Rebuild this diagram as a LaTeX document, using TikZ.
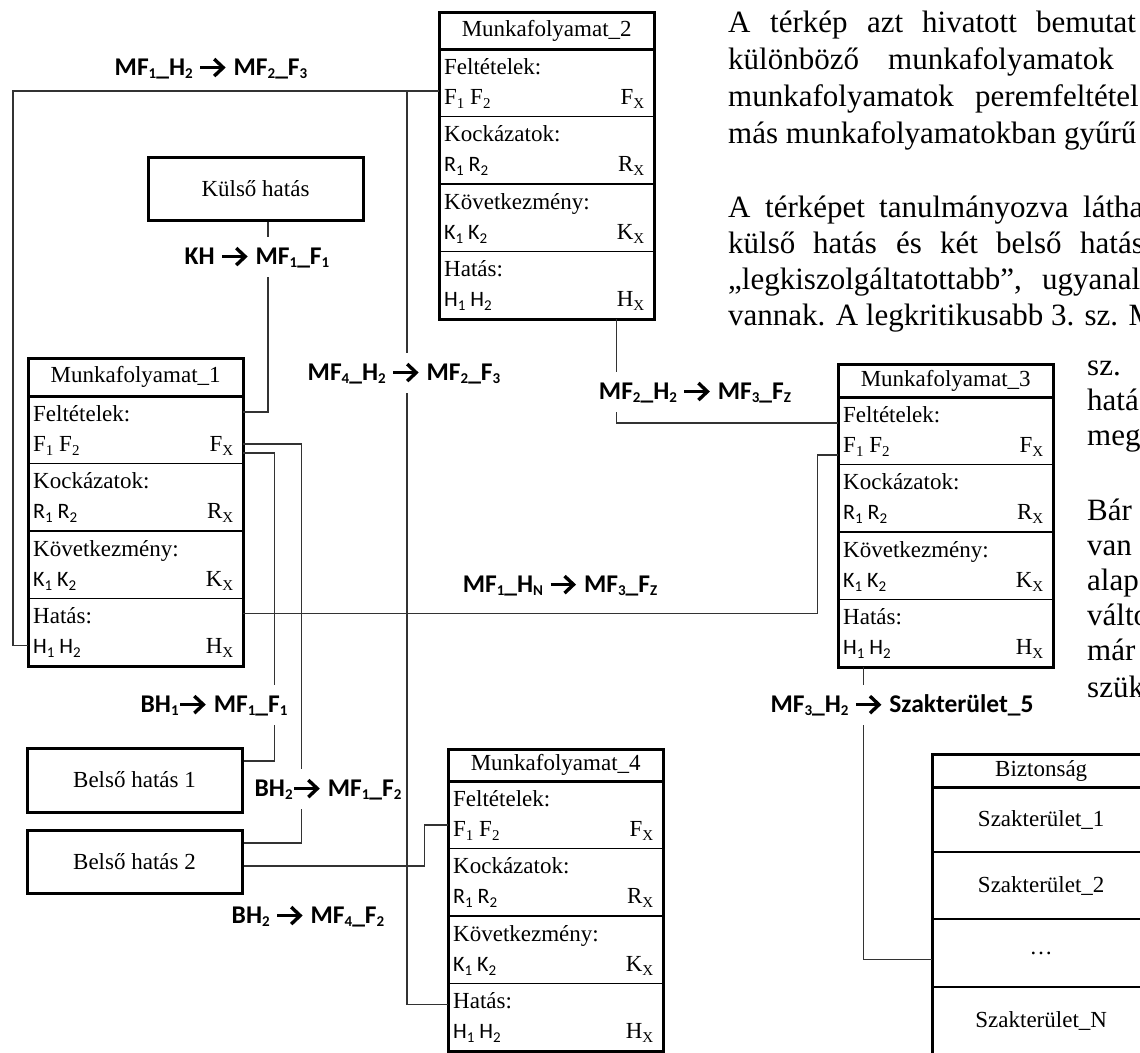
\documentclass[tikz,border=0pt]{standalone}
\usepackage{fontspec}
\setmainfont{Liberation Serif}
\newfontfamily\labfont{Carlito}
\usetikzlibrary{calc}

\newcommand\dn[1]{\raisebox{-4pt}{\fontsize{15}{15}\selectfont #1}}
\newcommand\ldn[1]{\raisebox{-3pt}{\fontsize{15}{15}\selectfont #1}}
\newcommand\arr{\tikz[baseline=-7.5pt, x=1pt, y=1pt]{\draw[line width=3.4pt, line cap=butt] (0,0) -- (23,0); \draw[line width=3.4pt, line join=miter, miter limit=4] (14,8.5) -- (23,0) -- (14,-8.5);}\hspace{3pt}}
\newcommand\svals[1]{{\labfont\fontsize{22}{22}\selectfont #1\dn{1}\ #1\dn{2}}}

\newcommand\mfsec[6]{%
  \node[sec, anchor=north west] (#1) at (#2,#3) {};
  \node[txt, anchor=base west] (#1-l) at ([xshift=5pt,yshift=-25pt]#1.north west) {#4};
  \node[txt, anchor=base west] (#1-v) at ([xshift=5pt,yshift=-55pt]#1.north west) {#5};
  \node[txt, anchor=base east] (#1-x) at ([xshift=-10pt,yshift=-55pt]#1.north east) {#6};
  \draw[div] (#1.north west) -- (#1.north east);
}
\newcommand\mfbox[5]{%
  \node[sec, anchor=north west, minimum height=#4pt] (#1-t) at (#2,#3) {#5};
  \mfsec{#1-f}{#2}{#3+#4}{Feltételek:}{F\dn{1}\ F\dn{2}}{F\dn{X}}
  \mfsec{#1-r}{#2}{#3+#4+67.5}{Kockázatok:}{\svals{R}}{R\dn{X}}
  \mfsec{#1-k}{#2}{#3+#4+135}{Következmény:}{\svals{K}}{K\dn{X}}
  \mfsec{#1-h}{#2}{#3+#4+202.5}{Hatás:}{\svals{H}}{H\dn{X}}
  \draw[outer] (#1-t.north west) rectangle (#1-h.south east);
  \draw[outer] (#1-t.south west) -- (#1-t.south east);
}

\begin{document}
\begin{tikzpicture}[x=1pt, y=-1pt,
  sec/.style={minimum width=215pt, minimum height=67.5pt, inner sep=0pt, font=\fontsize{23}{27}\selectfont},
  txt/.style={inner sep=0pt, font=\fontsize{23}{27}\selectfont},
  div/.style={line width=1.4pt},
  outer/.style={line width=3pt},
  sbox/.style={draw, line width=3pt, minimum width=215pt, minimum height=63pt, inner sep=0pt, font=\fontsize{23}{27}\selectfont},
  conn/.style={line width=1.4pt, draw=black!80},
  lbl/.style={fill=white, inner xsep=2pt, inner ysep=0pt, minimum height=40pt, font=\labfont\bfseries\fontsize{25.5}{30}\selectfont},
  para/.style={anchor=base west, inner sep=0pt, font=\fontsize{31}{36}\selectfont}]
\path[use as bounding box] (0,0) rectangle (1140,1052);
\clip (0,0) rectangle (1140,1052);

% boxes
\mfbox{mf1}{28}{358}{38}{Munkafolyamat\_1}
\mfbox{mf2}{439}{12}{37}{Munkafolyamat\_2}
\mfbox{mf3}{838}{364}{33}{Munkafolyamat\_3}
\mfbox{mf4}{448}{749}{32}{Munkafolyamat\_4}

\node[sbox] (kh) at (255.5,188.5) {Külső hatás};
\node[sbox, minimum height=64pt] (bh1) at (134.5,780) {Belső hatás 1};
\node[sbox] (bh2) at (134.5,861.5) {Belső hatás 2};

% Biztonsag table
\node[sec, anchor=north west, minimum width=218pt, minimum height=33pt] (bz-t) at (932,754) {Biztonság};
\node[sec, anchor=north west, minimum width=218pt, minimum height=65pt] (bz-1) at (932,787) {Szakterület\_1};
\node[sec, anchor=north west, minimum width=218pt, minimum height=67pt] (bz-2) at (932,852) {Szakterület\_2};
\node[sec, anchor=north west, minimum width=218pt, minimum height=68pt] (bz-3) at (932,919) {…};
\node[sec, anchor=north west, minimum width=218pt, minimum height=67pt] (bz-n) at (932,987) {Szakterület\_N};
\draw[outer] (bz-t.north west) rectangle (bz-n.south east);
\draw[outer] (bz-1.north west) -- (bz-1.north east);
\draw[div] (bz-2.north west) -- (bz-2.north east);
\draw[div] (bz-3.north west) -- (bz-3.north east);
\draw[div] (bz-n.north west) -- (bz-n.north east);

% connectors
\coordinate (a1) at ([yshift=-47pt]mf1-h.north west);
\coordinate (a2) at ([yshift=-42pt]mf2-f.north west);
\draw[conn] (a1) -- ++(-15,0) |- (a2);
\coordinate (b1) at ([yshift=-21pt]mf4-h.north west);
\draw[conn] (b1) -- ++(-41,0) |- (a2);
\coordinate (c2) at ([yshift=-16pt]mf1-f.north east);
\draw[conn] ([xshift=12.5pt]kh.south) |- (c2);
\coordinate (d1) at ([yshift=-57pt]mf1-f.north east);
\draw[conn] (d1) -- ++(31,0) |- ([yshift=19pt]bh1.east);
\coordinate (e1) at ([yshift=-48pt]mf1-f.north east);
\draw[conn] (e1) -- ++(58,0) |- ([yshift=18.5pt]bh2.east);
\coordinate (f2) at ([yshift=-44pt]mf4-f.north west);
\draw[conn] ([yshift=-4.5pt]bh2.east) -- ++(181,0) |- (f2);
\coordinate (g1) at ([yshift=-15pt]mf1-h.north east);
\coordinate (g2) at ([yshift=-58pt]mf3-f.north west);
\draw[conn] (g1) -- ++(574,0) |- (g2);
\coordinate (h2) at ([yshift=-26pt]mf3-f.north west);
\draw[conn] ([xshift=69.5pt]mf2-h.south) |- (h2);
\draw[conn] ([xshift=-82.5pt]mf3-h.south) |- ([yshift=-6pt]bz-3.west);

% labels
\node[lbl] (l1) at (211,68) {MF\ldn{1}\_H\ldn{2} \arr\ MF\ldn{2}\_F\ldn{3}};
\node[lbl] (l2) at (404,373) {MF\ldn{4}\_H\ldn{2} \arr\ MF\ldn{2}\_F\ldn{3}};
\node[lbl] (l3) at (257,257) {KH \arr\ MF\ldn{1}\_F\ldn{1}};
\node[lbl] (l4) at (214,705) {BH\ldn{1}\arr\ MF\ldn{1}\_F\ldn{1}};
\node[lbl] (l5) at (328,789) {BH\ldn{2}\arr\ MF\ldn{1}\_F\ldn{2}};
\node[lbl] (l6) at (308,916) {BH\ldn{2} \arr\ MF\ldn{4}\_F\ldn{2}};
\node[lbl] (l7) at (560,585) {MF\ldn{1}\_H\ldn{N} \arr\ MF\ldn{3}\_F\ldn{Z}};
\node[lbl] (l8) at (695,392) {MF\ldn{2}\_H\ldn{2} \arr\ MF\ldn{3}\_F\ldn{Z}};
\node[lbl] (l9) at (902,705) {MF\ldn{3}\_H\ldn{2} \arr\ Szakterület\_5};

% paragraph text (clipped at the right edge, as in the reference)
\node[para] (p1a) at (728,32) {A};
\node[para] (p1b) at (770,32) {térkép};
\node[para] (p1c) at (867,32) {azt};
\node[para] (p1d) at (922,32) {hivatott};
\node[para] (p1e) at (1036,32) {bemutat};
\node[para] (p2a) at (728,69) {különböző};
\node[para] (p2b) at (888,69) {munkafolyamatok};
\node[para] (p3a) at (728,106) {munkafolyamatok};
\node[para] (p3b) at (975,106) {peremfeltétel};
\node[para] (p4) at (728,143) {más munkafolyamatokban gyűrű};
\node[para] (p5a) at (728,217) {A};
\node[para] (p5b) at (765,217) {térképet};
\node[para] (p5c) at (879,217) {tanulmányozva};
\node[para] (p5d) at (1083,217) {látha};
\node[para] (p6a) at (728,253) {külső};
\node[para] (p6b) at (813,253) {hatás};
\node[para] (p6c) at (896,253) {és};
\node[para] (p6d) at (940,253) {két};
\node[para] (p6e) at (996,253) {belső};
\node[para] (p6f) at (1080,253) {hatás};
\node[para] (p7a) at (728,289) {„legkiszolgáltatottabb”,};
\node[para] (p7b) at (1042,289) {ugyanal};
\node[para] (p8) at (728,325) {vannak. A legkritikusabb 3. sz. M};
\node[para] (q1) at (1087,375) {sz.};
\node[para] (q2) at (1087,410) {hatá};
\node[para] (q3) at (1087,445) {meg};
\node[para] (q4) at (1087,520) {Bár};
\node[para] (q5) at (1087,555) {van};
\node[para] (q6) at (1087,590) {alap};
\node[para] (q7) at (1087,625) {válto};
\node[para] (q8) at (1087,660) {már};
\node[para] (q9) at (1087,697) {szük};
\end{tikzpicture}
\end{document}
